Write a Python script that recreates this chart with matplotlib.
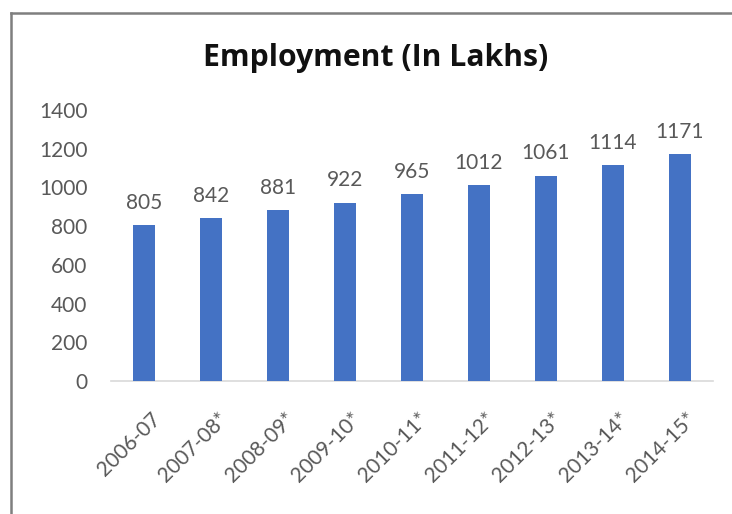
import matplotlib
matplotlib.use("Agg")
import matplotlib.pyplot as plt
from matplotlib.lines import Line2D
from matplotlib.transforms import ScaledTranslation

years = ["2006-07", "2007-08*", "2008-09*", "2009-10*", "2010-11*",
         "2011-12*", "2012-13*", "2013-14*", "2014-15*"]
employment = [805, 842, 881, 922, 965, 1012, 1061, 1114, 1171]
y_ticks = [0, 200, 400, 600, 800, 1000, 1200, 1400]

plt.rcParams['font.family'] = ['Lato', 'DejaVu Sans']
label_color = "#595959"
fs = 15

fig = plt.figure(figsize=(7.32, 5.14), dpi=100)
ax = fig.add_axes([111 / 732, 1 - 381 / 514, (713 - 111) / 732, (381 - 110) / 514])

x = range(len(years))
ax.bar(x, employment, width=0.33, color="#4472C4", zorder=3)
for xi, v in zip(x, employment):
    ax.annotate(str(v), (xi, v), xytext=(0, 9), textcoords="offset points",
                ha="center", va="bottom", fontsize=fs, color=label_color)

ax.set_xlim(-0.5, len(years) - 0.5)
ax.set_ylim(0, 1400)
ax.set_yticks(y_ticks)
ax.set_yticklabels([str(t) for t in y_ticks], fontsize=fs, color=label_color)
ax.set_xticks(list(x))
ax.set_xticklabels(years, rotation=45, ha="right", va="top", rotation_mode="anchor",
                   fontsize=fs, color=label_color)
ax.tick_params(axis="both", length=0)
ax.tick_params(axis="y", pad=17)
ax.tick_params(axis="x", pad=20)
shift = ScaledTranslation(6 / 100, 0, fig.dpi_scale_trans)
for lbl in ax.get_xticklabels():
    lbl.set_transform(lbl.get_transform() + shift)
for s in ["top", "right", "left"]:
    ax.spines[s].set_visible(False)
ax.spines["bottom"].set_color("#d9d9d9")
ax.spines["bottom"].set_linewidth(1.2)

fig.text(376 / 732, 1 - 58 / 514, "Employment (In Lakhs)", ha="center", va="center",
         fontsize=21.7, fontweight="bold", color="#111111", family=["Open Sans", "DejaVu Sans"])

# chart frame (left and top edges)
fig.add_artist(Line2D([11 / 732, 11 / 732], [0, 1 - 13 / 514], transform=fig.transFigure,
                      color="#7f7f7f", linewidth=1.8))
fig.add_artist(Line2D([11 / 732, 1], [1 - 13 / 514, 1 - 13 / 514], transform=fig.transFigure,
                      color="#7f7f7f", linewidth=1.8))

fig.savefig("out.png", dpi=100, facecolor="white")
